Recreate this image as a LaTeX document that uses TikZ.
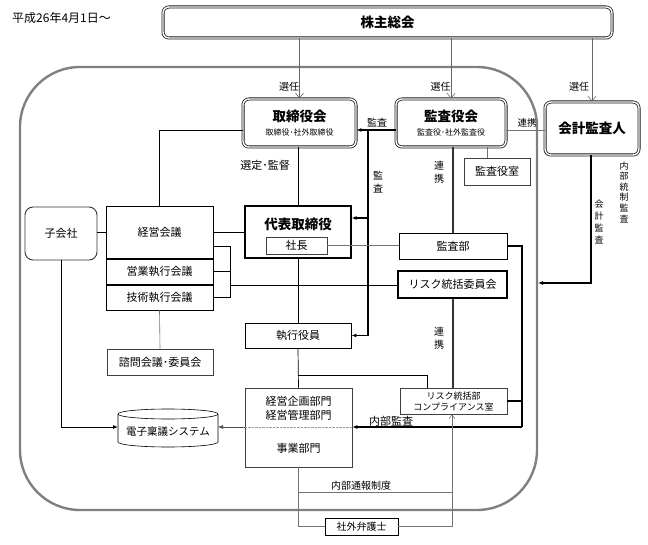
\documentclass[tikz,border=0pt]{standalone}
\usepackage{fontspec}
\setmainfont{Noto Sans CJK JP}
\usetikzlibrary{arrows.meta, calc}

\newcommand{\fs}[2]{\fontsize{#1}{#2}\selectfont}

\begin{document}
\begin{tikzpicture}[x=1pt, y=-1pt, >={Latex[length=5pt,width=4pt]},
    font=\fs{11}{13},
    dbox/.style={rectangle, draw=black!90, double, double distance=1.4pt, line width=0.8pt, rounded corners=6pt, fill=white, align=center, inner sep=0pt},
    box/.style={rectangle, draw, line width=0.9pt, fill=white, inner sep=0pt},
    hbox/.style={rectangle, draw, line width=1.8pt, fill=white, inner sep=0pt},
    tbox/.style={rectangle, draw=black!75, line width=0.6pt, fill=white, inner sep=0pt},
    title/.style={inner sep=0pt, font=\fs{13.5}{15}\bfseries},
    lab/.style={inner sep=0pt, font=\fs{10}{12}},
    vlab/.style={align=center, inner sep=0pt, font=\fs{10}{13}},
    sel/.style={draw=black!60, line width=0.6pt, -{Straight Barb[length=5pt,width=8pt]}},
    audit/.style={line width=1.6pt},
    link/.style={draw=black!55, line width=0.6pt},
    heavy/.style={line width=2.2pt, draw=black!80}]

    \useasboundingbox[fill=white] (0,0) rectangle (648,545);

    % frame of the company
    \draw[black!50, line width=2.4pt, rounded corners=60pt] (20,67) rectangle (537,510);

    \node (date) [anchor=west, inner sep=0pt, font=\fs{12}{14}] at (12,18) {平成26年4月1日～};
    \node (soukai) [dbox, minimum width=449pt, minimum height=31pt, font=\fs{13.5}{15}\bfseries] at (387.5,22.5) {株主総会};

    % boards
    \node (torikai) [dbox, minimum width=113pt, minimum height=48pt] at (299.5,123) {{\fs{13.5}{15}\bfseries 取締役会}\\[1pt]{\fs{8}{9}取締役･社外取締役}};
    \node (kansakai) [dbox, minimum width=110pt, minimum height=48pt] at (451,123) {{\fs{13.5}{15}\bfseries 監査役会}\\[1pt]{\fs{8}{9}監査役･社外監査役}};
    \node (kaikei) [dbox, minimum width=94pt, minimum height=53pt, font=\fs{13.5}{15}\bfseries] at (592,128.5) {会計監査人};
    \node (kshitsu) [tbox, minimum width=66pt, minimum height=27pt] at (497,171.5) {監査役室};

    % left column
    \node (kogaisha) [tbox, draw=black!80, line width=0.9pt, rounded corners=8pt, minimum width=72pt, minimum height=53pt] at (61,233.5) {子会社};
    \node (keieikaigi) [box, minimum width=107pt, minimum height=52pt] at (159.5,232) {経営会議};
    \node (eigyo) [box, minimum width=107pt, minimum height=25pt] at (159.5,271.5) {営業執行会議};
    \node (gijutsu) [box, minimum width=107pt, minimum height=25pt] at (159.5,297.5) {技術執行会議};
    \node (shimon) [tbox, minimum width=106pt, minimum height=26pt] at (160,362) {諮問会議･委員会};

    % centre column
    \node (daihyo) [box, line width=1.3pt, minimum width=106pt, minimum height=52pt] at (298,232) {};
    \node (daihyotitle) [title] at (298,224) {代表取締役};
    \node (shacho) [tbox, minimum width=61pt, minimum height=17pt] at (296.5,245.5) {社長};
    \node (shikko) [box, minimum width=106pt, minimum height=25pt] at (298,335.5) {執行役員};
    \node (bumon) [tbox, minimum width=107pt, minimum height=79pt] at (298.5,427.5) {};
    \node (bumonA) [inner sep=0pt, align=center, font=\fs{11}{13.5}] at (298.5,408.5) {経営企画部門\\経営管理部門};
    \node (bumonB) [inner sep=0pt] at (298.5,448) {事業部門};

    % right column
    \node (kansabu) [box, minimum width=108pt, minimum height=26pt] at (453,246) {監査部};
    \node (riskkai) [hbox, minimum width=109pt, minimum height=27pt] at (452.5,284.5) {リスク統括委員会};
    \node (riskbu) [tbox, minimum width=107pt, minimum height=26pt, align=center, font=\fs{9}{11}] at (453.5,401) {リスク統括部\\コンプライアンス室};
    \node (bengoshi) [box, line width=0.7pt, minimum width=73pt, minimum height=17pt, font=\fs{10}{12}] at (361.5,526.5) {社外弁護士};

    % ringi system
    \node (ringi) [minimum width=100pt, minimum height=38pt, inner sep=0pt] at (168,428) {};
    \draw[line width=0.6pt, fill=white] (118,414) -- (118,442) arc[start angle=180, end angle=360, x radius=50pt, y radius=5pt] -- (218,414);
    \draw[line width=0.6pt] (168,414) ellipse[x radius=50pt, y radius=5pt];
    \node (ringitext) [inner sep=0pt, font=\fs{10.5}{12}] at (168,432) {電子稟議システム};

    % election
    \draw[sel] (soukai.south -| torikai.north) -- (torikai.north);
    \draw[sel] (soukai.south -| kansakai.north) -- (kansakai.north);
    \draw[sel] (soukai.south -| kaikei.north) -- (kaikei.north);
    \node (sen1) [lab] at (289,87) {選任};
    \node (sen2) [lab] at (440.5,87) {選任};
    \node (sen3) [lab] at (579,87) {選任};

    % audit by kansayaku
    \coordinate (kj) at (368,130);
    \coordinate (kjmid) at (368,218);
    \draw[audit, ->] ([yshift=-7pt]kansakai.west) -- ([yshift=-7pt]torikai.east);
    \draw[audit, ->] (kj) |- (shikko.east);
    \draw[audit, ->] (kjmid) -- (kjmid -| daihyo.east);
    \node (kansalab1) [lab] at (377,123) {監査};
    \node (kansalab2) [vlab] at (378,182) {監\\査};

    \draw[line width=0.7pt] (torikai.south -| daihyo.north) -- (daihyo.north);
    \node (senteilab) [lab, font=\fs{11}{13}] at (265,165) {選定･監督};
    \draw[line width=0.7pt] ([yshift=-7pt]torikai.west) -| (keieikaigi.north);

    \draw[heavy] (kansakai.south -| kansabu.north) -- (kansabu.north);
    \node (renkei1) [vlab, font=\fs{10}{12.5}] at (439,172) {連\\携};
    \coordinate (kr) at (487,147);
    \draw[link] (kr) -- (kr |- kshitsu.north);
    \draw[link] ([yshift=-7pt]kansakai.east) -- ([yshift=-7pt]kansakai.east -| kaikei.west);
    \node (renkei2) [lab, font=\fs{9.5}{11}] at (527,123) {連携};

    % external audit
    \coordinate (kkend) at (538,283);
    \draw[audit, ->] (kaikei.south -| 591,0) |- (kkend);
    \node (kaikeilab) [vlab, font=\fs{9}{11.7}] at (599,222) {会\\計\\監\\査};
    \node (naibulab) [vlab, font=\fs{9}{10.6}] at (624,192) {内\\部\\統\\制\\監\\査};

    % left side links
    \draw[line width=0.8pt] (kogaisha.east |- keieikaigi.east) -- (keieikaigi.west);
    \draw[line width=0.8pt] (keieikaigi.east) -- (daihyo.west);
    \coordinate (br) at (230,285);
    \draw[line width=0.9pt] ([yshift=-14pt]keieikaigi.east) -| (gijutsu.east -| br) -- (gijutsu.east);
    \draw[line width=0.9pt] (eigyo.east) -- (eigyo.east -| br);
    \draw[line width=0.9pt] (br) -- (br -| riskkai.west);
    \draw[link] (gijutsu.south) -- (shimon.north);
    \draw[link] (shacho.east) -- (shacho.east -| kansabu.west);

    % executive line
    \draw[line width=0.7pt] (daihyo.south) -- (shikko.north);
    \draw[line width=0.7pt] (shikko.south) -- (bumon.north);
    \coordinate (bk) at (298,375);
    \draw[line width=0.9pt] (bk) -| ([xshift=-26.5pt]riskbu.north);
    \draw[heavy] (riskkai.south -| kansabu.north) -- (riskbu.north -| kansabu.north);
    \node (renkei3) [vlab, font=\fs{10}{12.5}] at (439,338) {連\\携};

    % internal audit
    \coordinate (ia) at (522,427);
    \draw[line width=1.1pt] (kansabu.east) -| (ia);
    \draw[line width=1.1pt, ->] (ia) -- (ia -| bumon.east);
    \draw[line width=1.1pt] (riskbu.east) -- (riskbu.east -| ia);
    \node (ialab) [lab, font=\fs{11}{13}] at (391,421) {内部監査};

    % ringi system arrows
    \draw[line width=0.8pt, ->] (kogaisha.south) |- (118,427);
    \draw[black!40, densely dotted] (bumon.west |- ia) -- (bumon.east |- ia);
    \draw[line width=0.6pt, black!70, ->] (bumon.west |- ia) -- (218,427);

    % whistleblowing
    \coordinate (tsuho) at (298,492);
    \coordinate (tsuhoR) at (452,492);
    \draw[link] (bumon.south) |- (bengoshi.west);
    \draw[link, -{Straight Barb[length=4pt,width=6pt]}] (bengoshi.east) -| (tsuhoR |- riskbu.south);
    \draw[link] (tsuho) -- (tsuhoR);
    \node (tsuholab) [lab] at (361,486) {内部通報制度};

\end{tikzpicture}
\end{document}
